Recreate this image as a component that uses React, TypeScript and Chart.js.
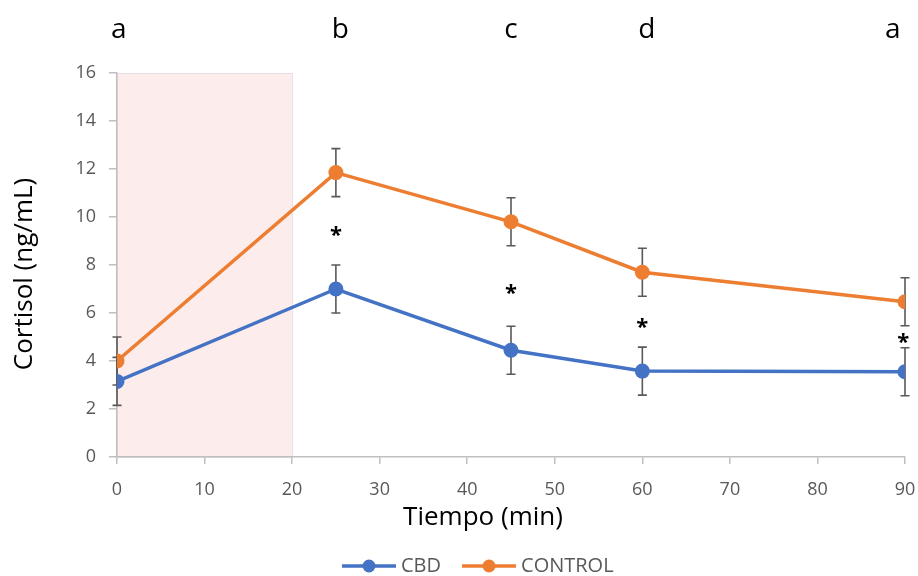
import React, { useEffect, useRef } from "react";
import { Chart, registerables } from "chart.js";

Chart.register(...registerables);

const timeMin = [0, 25, 45, 60, 90];
const cbdValues = [3.15, 7.0, 4.45, 3.58, 3.55];
const controlValues = [4.0, 11.85, 9.8, 7.7, 6.47];
const cbdErr = [1, 1, 1, 1, 1];
const controlErr = [1, 1, 1, 1, 1];
const groupLetters = ["a", "b", "c", "d", "a"];
const letterX = [0.2, 25.5, 45, 60.5, 88.6];
const sigX = [25, 45, 60, 89.8];
const sigY = [9.5, 7.1, 5.65, 5.05];
const stressStart = 0;
const stressEnd = 20;
const seriesNames = ["CBD", "CONTROL"];
const xTitle = "Tiempo (min)";
const yTitle = "Cortisol (ng/mL)";

const BLUE = "#4472C4";
const ORANGE = "#ED7D31";
const GRAY_TXT = "#595959";
const AXIS = "#BFBFBF";
const FONT = "'Open Sans', sans-serif";

const overlay = {
  id: "overlay",
  beforeDraw(chart: any) {
    const { ctx, chartArea, scales } = chart;
    ctx.save();
    ctx.fillStyle = "#ffffff";
    ctx.fillRect(0, 0, chart.width, chart.height);
    const x0 = scales.x.getPixelForValue(stressStart);
    const x1 = scales.x.getPixelForValue(stressEnd);
    ctx.fillStyle = "#FDECEC";
    ctx.fillRect(x0, chartArea.top, x1 - x0, chartArea.bottom - chartArea.top);
    ctx.strokeStyle = "#EADDEA";
    ctx.lineWidth = 1;
    ctx.strokeRect(x0 + 0.5, chartArea.top + 0.5, x1 - x0, chartArea.bottom - chartArea.top);
    ctx.restore();
  },
  beforeDatasetsDraw(chart: any) {
    const { ctx, scales } = chart;
    const errs = [cbdErr, controlErr];
    ctx.save();
    ctx.strokeStyle = GRAY_TXT;
    ctx.lineWidth = 1.6;
    chart.data.datasets.forEach((ds: any, di: number) => {
      ds.data.forEach((p: any, i: number) => {
        const e = errs[di][i];
        const px = scales.x.getPixelForValue(p.x);
        const yt = scales.y.getPixelForValue(p.y + e);
        const yb = scales.y.getPixelForValue(p.y - e);
        ctx.beginPath();
        ctx.moveTo(px, yt);
        ctx.lineTo(px, yb);
        ctx.moveTo(px - 4.5, yt);
        ctx.lineTo(px + 4.5, yt);
        ctx.moveTo(px - 4.5, yb);
        ctx.lineTo(px + 4.5, yb);
        ctx.stroke();
      });
    });
    ctx.restore();
  },
  afterDraw(chart: any) {
    const { ctx, chartArea, scales } = chart;
    ctx.save();
    // group letters
    ctx.fillStyle = "#000000";
    ctx.font = `28px ${FONT}`;
    ctx.textAlign = "center";
    ctx.textBaseline = "alphabetic";
    groupLetters.forEach((l, i) => {
      ctx.fillText(l, scales.x.getPixelForValue(letterX[i]), 38);
    });
    // asterisks
    ctx.font = `bold 22px ${FONT}`;
    sigX.forEach((x, i) => {
      ctx.fillText("*", scales.x.getPixelForValue(x), scales.y.getPixelForValue(sigY[i]) + 13);
    });
    // axis titles
    ctx.font = `26px ${FONT}`;
    ctx.textBaseline = "middle";
    ctx.fillText(xTitle, 483, 518);
    ctx.save();
    ctx.translate(25, (chartArea.top + chartArea.bottom) / 2 + 9);
    ctx.rotate(-Math.PI / 2);
    ctx.fillText(yTitle, 0, 0);
    ctx.restore();
    // legend
    ctx.font = `20px ${FONT}`;
    ctx.textAlign = "left";
    const colors = [BLUE, ORANGE];
    let lx = 342;
    const ly = 566;
    seriesNames.forEach((name, i) => {
      ctx.strokeStyle = colors[i];
      ctx.lineWidth = 3.5;
      ctx.beginPath();
      ctx.moveTo(lx, ly);
      ctx.lineTo(lx + 54, ly);
      ctx.stroke();
      ctx.fillStyle = colors[i];
      ctx.beginPath();
      ctx.arc(lx + 27, ly, 6.5, 0, Math.PI * 2);
      ctx.fill();
      ctx.fillStyle = GRAY_TXT;
      ctx.fillText(name, lx + 59, ly);
      lx += 59 + ctx.measureText(name).width + 21;
    });
    ctx.restore();
  },
};

export default function App() {
  const ref = useRef<HTMLCanvasElement>(null);
  useEffect(() => {
    if (!ref.current) return;
    const mk = (vals: number[]) => vals.map((v, i) => ({ x: timeMin[i], y: v }));
    const chart = new Chart(ref.current, {
      type: "line",
      data: {
        datasets: [
          {
            label: seriesNames[0],
            data: mk(cbdValues),
            borderColor: BLUE,
            backgroundColor: BLUE,
            borderWidth: 3.5,
            pointRadius: 7.5,
            pointBorderWidth: 0,
            tension: 0,
          },
          {
            label: seriesNames[1],
            data: mk(controlValues),
            borderColor: ORANGE,
            backgroundColor: ORANGE,
            borderWidth: 3.5,
            pointRadius: 7.5,
            pointBorderWidth: 0,
            tension: 0,
          },
        ],
      },
      options: {
        animation: false,
        responsive: true,
        maintainAspectRatio: false,
        layout: { padding: { left: 0, top: 73, right: 13, bottom: 0 } },
        plugins: { legend: { display: false }, tooltip: { enabled: false } },
        scales: {
          x: {
            type: "linear",
            min: 0,
            max: 90,
            afterFit: (s: any) => {
              s.height = 119;
              s.paddingRight = 0;
              s.paddingLeft = 0;
            },
            ticks: { stepSize: 10, color: GRAY_TXT, font: { family: FONT, size: 18 }, padding: 15 },
            grid: { drawOnChartArea: false, drawTicks: true, tickLength: 7, color: AXIS, lineWidth: 1.5 },
            border: { color: AXIS, width: 1.5 },
          },
          y: {
            min: 0,
            max: 16,
            afterFit: (s: any) => {
              s.width = 117;
              s.paddingTop = 0;
              s.paddingBottom = 0;
            },
            ticks: { stepSize: 2, color: GRAY_TXT, font: { family: FONT, size: 18 }, padding: 13 },
            grid: { drawOnChartArea: false, drawTicks: true, tickLength: 8, color: AXIS, lineWidth: 1.5 },
            border: { color: AXIS, width: 1.5 },
          },
        },
      },
      plugins: [overlay],
    });
    return () => chart.destroy();
  }, []);
  return (
    <div style={{ position: "absolute", left: 0, top: 0, width: 918, height: 576 }}>
      <canvas ref={ref} />
    </div>
  );
}
